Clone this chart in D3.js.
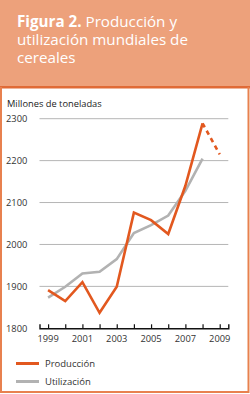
<!DOCTYPE html>
<html>
<head>
<meta charset="utf-8">
<script src="https://cdn.jsdelivr.net/npm/d3@7"></script>
<style>
  body { margin: 0; background: #fff; }
  svg { display: block; font-family: "Open Sans", "Noto Sans", sans-serif; }
</style>
</head>
<body>
<svg id="chart" width="250" height="394"></svg>
<script>
// Data
const years = [1999, 2000, 2001, 2002, 2003, 2004, 2005, 2006, 2007, 2008, 2009];
const produccion = [1891, 1865, 1910, 1837, 1899, 2076, 2058, 2025, 2140, 2289, 2215];
const utilizacion = [1873, 1899, 1931, 1935, 1965, 2027, 2046, 2069, 2128, 2205, null];
const yTicks = [1800, 1900, 2000, 2100, 2200, 2300];
const xTickLabels = [1999, 2001, 2003, 2005, 2007, 2009];
const titleLines = [["Figura 2. ", "Producción y"], ["", "utilización mundiales de"], ["", "cereales"]];
const legendNames = ["Producción", "Utilización"];

const W = 250, H = 394;
const colProd = "#e2581f", colUtil = "#b2b2b2", colFrame = "#e8814f";

const svg = d3.select("#chart");

// header box
svg.append("rect").attr("x", 0).attr("y", 0).attr("width", W).attr("height", 87)
  .attr("fill", "#eda17b");
svg.append("rect").attr("x", 0).attr("y", 86).attr("width", W).attr("height", 2.5)
  .attr("fill", "#e06a36");

// frame of the white panel
svg.append("path")
  .attr("d", `M1,87 V392 H248.5 V87`)
  .attr("fill", "none").attr("stroke", colFrame).attr("stroke-width", 2);

// title, one text per line
titleLines.forEach((l, i) => {
  const t = svg.append("text").attr("x", 17).attr("y", 26.5 + i * 18.3)
    .attr("fill", "#fff").attr("font-size", 15.2);
  if (l[0]) t.append("tspan").attr("font-weight", "bold").text(l[0]);
  t.append("tspan").text(l[1]);
});

// scales
const x = d3.scaleLinear().domain([1998.5, 2009.5]).range([39.5, 228.3]);
const y = d3.scaleLinear().domain([1800, 2300]).range([328.3, 118.7]);

svg.append("text").attr("x", 7).attr("y", 106.5).attr("font-size", 9.3)
  .attr("fill", "#222").text("Millones de toneladas");

// gridlines
svg.append("g").selectAll("line").data(yTicks.slice(1)).join("line")
  .attr("x1", x.range()[0]).attr("x2", x.range()[1])
  .attr("y1", d => y(d)).attr("y2", d => y(d))
  .attr("stroke", "#b5b5b5").attr("stroke-width", 1);

// y tick labels
svg.append("g").selectAll("text").data(yTicks).join("text")
  .attr("x", 6).attr("y", d => y(d)).attr("dy", "0.35em")
  .attr("font-size", 9.3).attr("fill", "#333").text(d => d);

// x axis with ticks pointing up
const xAxis = d3.axisTop(x).tickValues(years).tickSize(4).tickFormat("");
const gx = svg.append("g").attr("transform", `translate(0,${y(1800)})`).call(xAxis);
gx.select(".domain").attr("stroke", "#111").attr("stroke-width", 1.4);
gx.selectAll(".tick line").attr("stroke", "#111").attr("stroke-width", 1.2);

svg.append("g").selectAll("text").data(xTickLabels).join("text")
  .attr("x", d => x(d)).attr("y", 342).attr("text-anchor", "middle")
  .attr("font-size", 9.3).attr("fill", "#333").text(d => d);

// lines
const line = d3.line().x(d => x(d[0])).y(d => y(d[1]));
const util = years.map((yr, i) => [yr, utilizacion[i]]).filter(d => d[1] != null);
const prodSolid = years.slice(0, 10).map((yr, i) => [yr, produccion[i]]);
const prodDash = years.slice(9).map((yr, i) => [yr, produccion[i + 9]]);

svg.append("path").datum(util).attr("d", line)
  .attr("fill", "none").attr("stroke", colUtil).attr("stroke-width", 2.6);
svg.append("path").datum(prodSolid).attr("d", line)
  .attr("fill", "none").attr("stroke", colProd).attr("stroke-width", 2.6);
svg.append("path").datum(prodDash).attr("d", line)
  .attr("fill", "none").attr("stroke", colProd).attr("stroke-width", 2.6)
  .attr("stroke-dasharray", "4.5,4");

// legend
const legend = svg.append("g").selectAll("g").data(legendNames).join("g")
  .attr("transform", (d, i) => `translate(16,${363.5 + i * 18})`);
legend.append("line").attr("x1", 0).attr("x2", 23)
  .attr("stroke", (d, i) => i === 0 ? colProd : colUtil).attr("stroke-width", 3);
legend.append("text").attr("x", 29).attr("dy", "0.35em").attr("font-size", 9.5)
  .attr("fill", "#333").text(d => d);
</script>
</body>
</html>
